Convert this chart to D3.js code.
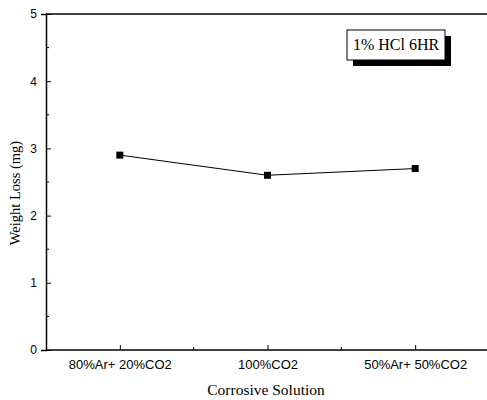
<!DOCTYPE html>
<html>
<head>
<meta charset="utf-8">
<script src="https://cdn.jsdelivr.net/npm/d3@7"></script>
<style>
  body { margin: 0; background: #fff; }
  svg { display: block; }
</style>
</head>
<body>
<div id="chart"></div>
<script>
// chart data
const categories = ["80%Ar+ 20%CO2", "100%CO2", "50%Ar+ 50%CO2"];
const weightLoss = [2.9, 2.6, 2.7];
const yTicks = [0, 1, 2, 3, 4, 5];
const legendLabel = "1% HCl 6HR";

const WIDTH = 487;
const HEIGHT = 400;
const margin = { top: 14, right: 0, bottom: 50, left: 46 };

const svg = d3.select("#chart").append("svg")
  .attr("width", WIDTH)
  .attr("height", HEIGHT);

// x is a numeric axis, categories sit at 1,2,3
const x = d3.scaleLinear().domain([0.5, 3.5]).range([margin.left, 489]);
const y = d3.scaleLinear().domain([0, 5]).range([HEIGHT - margin.bottom, margin.top]);

const serif = "'Liberation Serif', 'DejaVu Serif', serif";
const sans = "'Liberation Sans', Arial, sans-serif";

// top frame line
svg.append("line")
  .attr("x1", x(0.5)).attr("x2", WIDTH)
  .attr("y1", y(5)).attr("y2", y(5))
  .attr("stroke", "#000").attr("stroke-width", 1.5);

// y axis
const yAxis = d3.axisLeft(y).tickValues(yTicks).tickSize(5).tickFormat(d3.format("d"));
const gy = svg.append("g")
  .attr("transform", `translate(${x(0.5)},0)`)
  .call(yAxis);
gy.select(".domain").attr("stroke-width", 1.5);
gy.selectAll(".tick line").attr("x2", 5).attr("stroke-width", 1);
gy.selectAll(".tick text")
  .attr("x", -9)
  .style("font-family", sans).style("font-size", "12px").attr("fill", "#000");
// minor y ticks
gy.selectAll(".minor").data(d3.range(0.5, 5, 1)).enter().append("line")
  .attr("x1", 0).attr("x2", 3)
  .attr("y1", d => y(d)).attr("y2", d => y(d))
  .attr("stroke", "#000");

// x axis
const xAxis = d3.axisBottom(x).tickValues([1, 2, 3]).tickSize(0)
  .tickFormat((d, i) => categories[i]);
const gx = svg.append("g")
  .attr("transform", `translate(0,${y(0)})`)
  .call(xAxis);
gx.select(".domain").attr("stroke-width", 1.5).attr("d", `M${x(0.5)},0H${WIDTH}`);
gx.selectAll(".tick line").attr("y2", -5).attr("stroke-width", 1);
gx.selectAll(".tick text")
  .attr("y", 10)
  .style("font-family", sans).style("font-size", "13px").attr("fill", "#000");
gx.selectAll(".minor").data([1.5, 2.5]).enter().append("line")
  .attr("x1", d => x(d)).attr("x2", d => x(d))
  .attr("y1", 0).attr("y2", -3)
  .attr("stroke", "#000");

// axis titles
svg.append("text")
  .attr("transform", "rotate(-90)")
  .attr("x", -193)
  .attr("y", 20)
  .attr("text-anchor", "middle")
  .style("font-family", serif).style("font-size", "14.5px")
  .text("Weight Loss (mg)");
svg.append("text")
  .attr("x", 266)
  .attr("y", 395)
  .attr("text-anchor", "middle")
  .style("font-family", serif).style("font-size", "15.5px")
  .text("Corrosive Solution");

// data line and markers
const pts = weightLoss.map((v, i) => ({ xv: i + 1, v }));
svg.append("path")
  .datum(pts)
  .attr("fill", "none")
  .attr("stroke", "#000")
  .attr("stroke-width", 1)
  .attr("d", d3.line().x(d => x(d.xv)).y(d => y(d.v)));
svg.selectAll(".marker").data(pts).enter().append("rect")
  .attr("x", d => x(d.xv) - 3.5)
  .attr("y", d => y(d.v) - 3.5)
  .attr("width", 7).attr("height", 7)
  .attr("fill", "#000");

// legend box with shadow
const lg = svg.append("g").attr("transform", "translate(347,30)");
lg.append("rect").attr("x", 6).attr("y", 6).attr("width", 98).attr("height", 30).attr("fill", "#000");
lg.append("rect").attr("x", 0).attr("y", 0).attr("width", 98).attr("height", 30)
  .attr("fill", "#fff").attr("stroke", "#000").attr("stroke-width", 1);
lg.append("text")
  .attr("x", 49).attr("y", 20)
  .attr("text-anchor", "middle")
  .style("font-family", serif).style("font-size", "16px")
  .text(legendLabel);
</script>
</body>
</html>
